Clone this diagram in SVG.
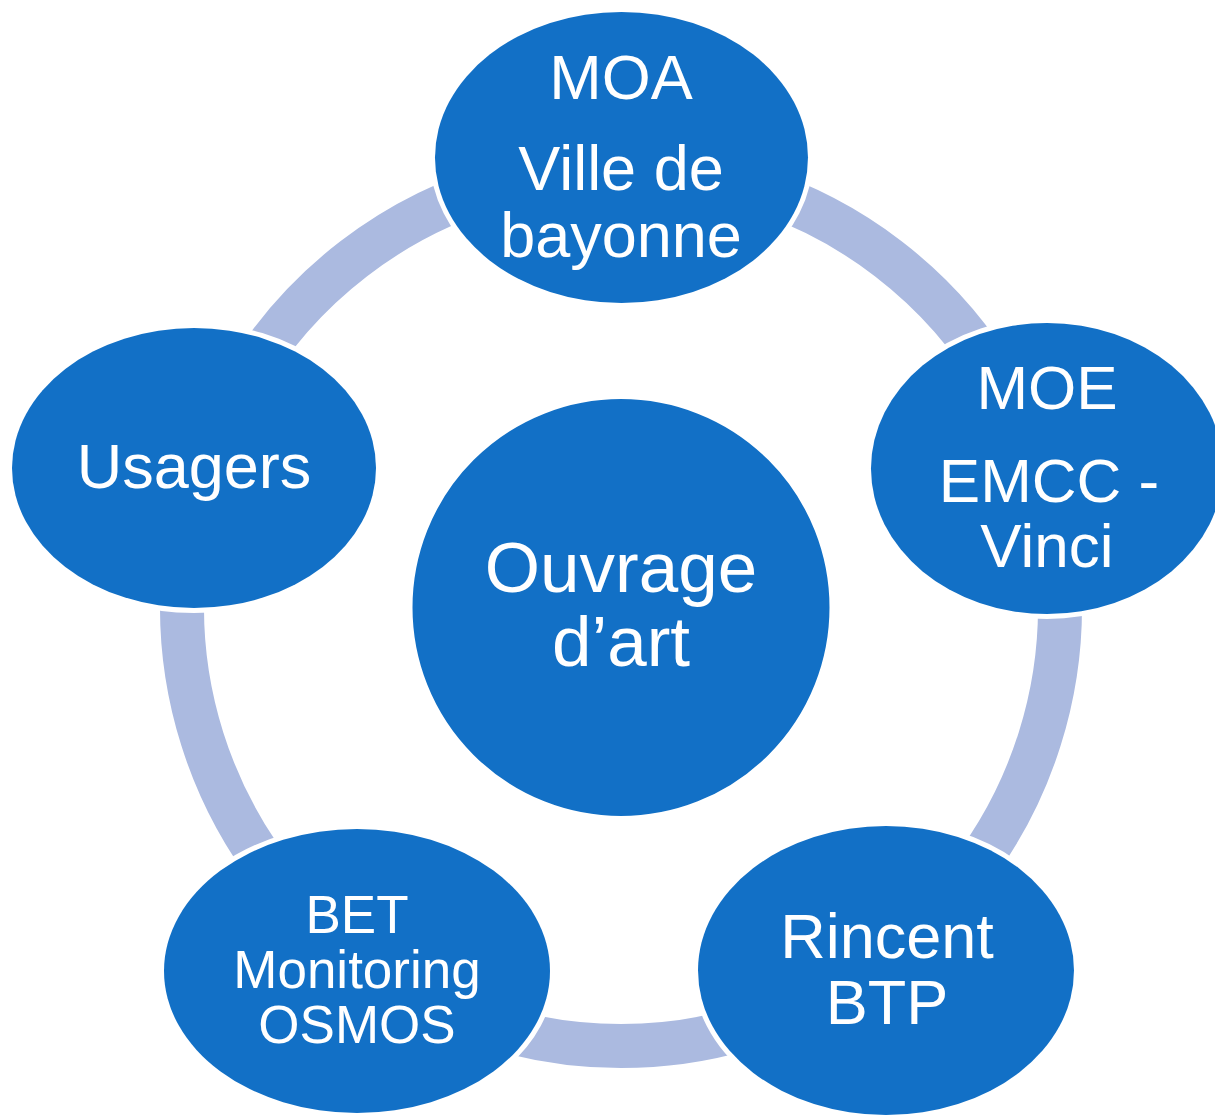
<svg xmlns="http://www.w3.org/2000/svg" width="1215" height="1116" viewBox="0 0 1215 1116">
<style>
.arc{fill:none;stroke:#ABBAE0;stroke-width:44;stroke-linecap:butt}
.node{fill:#1270C6;stroke:#FFFFFF;stroke-width:10;paint-order:stroke}
.hub{fill:#1270C6;stroke:#FFFFFF;stroke-width:3}
text{font-family:"Liberation Sans",Arial,sans-serif;fill:#FFFFFF;text-anchor:middle}
</style>
<rect width="1215" height="1116" fill="#FFFFFF"/>
<g id="connectors">
<path class="arc" d="M734.6,183.0 A439,439 0 0 1 1001.2,387.5"/>
<path class="arc" d="M1058.3,568.7 A439,439 0 0 1 957.3,889.2"/>
<path class="arc" d="M742.0,1029.0 A439,439 0 0 1 500.0,1029.0"/>
<path class="arc" d="M284.7,889.2 A439,439 0 0 1 183.7,568.7"/>
<path class="arc" d="M240.8,387.5 A439,439 0 0 1 507.4,183.0"/>
</g>
<g id="hub">
<circle class="hub" cx="621" cy="607.5" r="210"/>
<text font-size="71"><tspan x="621" y="592">Ouvrage</tspan><tspan x="621" y="666">d’art</tspan></text>
</g>
<g id="moa">
<ellipse class="node" cx="621.5" cy="157.5" rx="186.5" ry="145.5"/>
<text font-size="63"><tspan x="621" y="99">MOA</tspan><tspan x="621" y="190">Ville de</tspan><tspan x="621" y="257">bayonne</tspan></text>
</g>
<g id="moe">
<ellipse class="node" cx="1047" cy="468.5" rx="176" ry="145.5"/>
<text font-size="62"><tspan x="1047" y="409">MOE</tspan><tspan x="1049" y="502">EMCC -</tspan><tspan x="1047" y="567">Vinci</tspan></text>
</g>
<g id="rincent">
<ellipse class="node" cx="886" cy="970.5" rx="188" ry="144.5"/>
<text font-size="63"><tspan x="887" y="958">Rincent</tspan><tspan x="887" y="1024">BTP</tspan></text>
</g>
<g id="bet">
<ellipse class="node" cx="357" cy="971" rx="193" ry="142"/>
<text font-size="53"><tspan x="357" y="933">BET</tspan><tspan x="357" y="988">Monitoring</tspan><tspan x="357" y="1043">OSMOS</tspan></text>
</g>
<g id="usagers">
<ellipse class="node" cx="194" cy="468" rx="182" ry="140"/>
<text font-size="63"><tspan x="194" y="488">Usagers</tspan></text>
</g>
</svg>
